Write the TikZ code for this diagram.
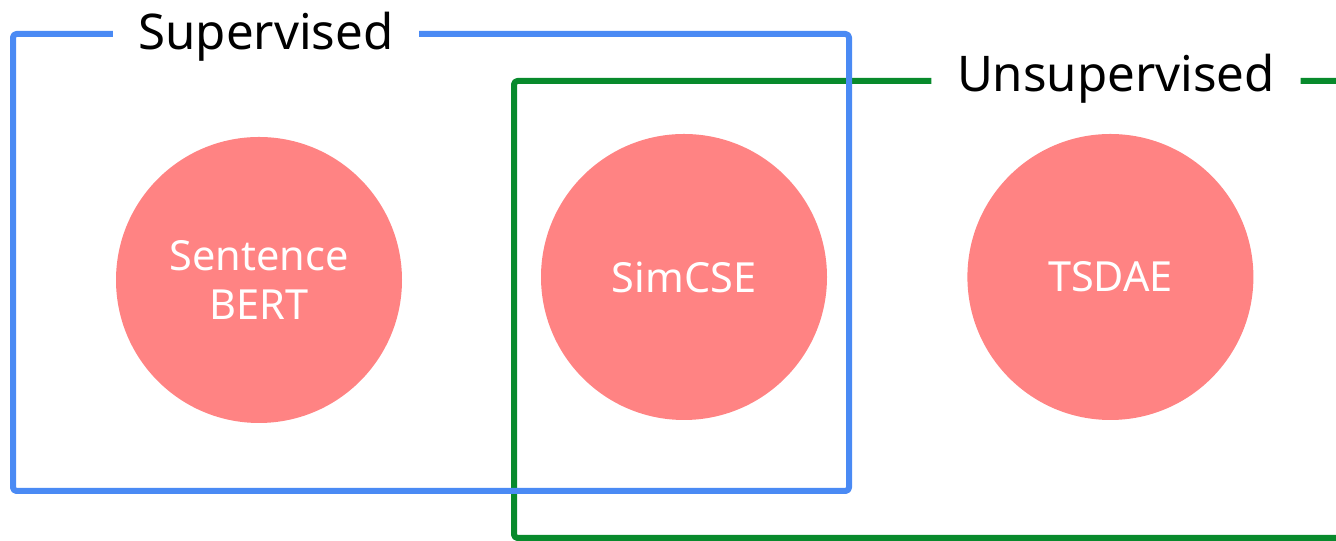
\documentclass[tikz,border=0pt]{standalone}
\usepackage{fontspec}
\setsansfont{Noto Sans}
\usetikzlibrary{positioning}

\definecolor{suplinecol}{RGB}{74,138,244}
\definecolor{unsuplinecol}{RGB}{8,138,44}
\definecolor{modelfill}{RGB}{255,131,131}

\tikzset{
  model/.style={circle, fill=modelfill, minimum size=2.86cm, inner sep=0pt,
    text=white, align=center, font=\sffamily\fontsize{11.8}{13.9}\selectfont},
  group label/.style={inner xsep=0.25cm, inner ysep=0pt, anchor=base,
    font=\sffamily\fontsize{14}{17}\selectfont},
  frame/.style={line width=0.06cm, line join=round, rounded corners=1pt},
}

\begin{document}
\begin{tikzpicture}
  \useasboundingbox (0,0) rectangle (13.36,-5.41);
  \clip (0,0) rectangle (13.36,-5.41);

  % the three models
  \node[model] (sbert) at (2.59,-2.80) {Sentence\\BERT};
  \node[model] (simcse) at (6.84,-2.77) {SimCSE};
  \node[model, right=1.39cm of simcse] (tsdae) {TSDAE};

  % group titles sitting in the frame lines
  \node[group label] (sup) at (2.66,-0.50) {Supervised};
  \node[group label] (unsup) at (11.16,-0.92) {Unsupervised};

  % unsupervised frame (runs off to the right)
  \draw[frame, unsuplinecol] (unsup.east |- 0,-0.81) -- (14,-0.81) -- (14,-5.38)
    -- (5.14,-5.38) -- (5.14,-0.81) -- (unsup.west |- 0,-0.81);

  % supervised frame
  \draw[frame, suplinecol] (sup.west |- 0,-0.34) -- (0.13,-0.34) -- (0.13,-4.91)
    -- (8.49,-4.91) -- (8.49,-0.34) -- (sup.east |- 0,-0.34);
\end{tikzpicture}
\end{document}
